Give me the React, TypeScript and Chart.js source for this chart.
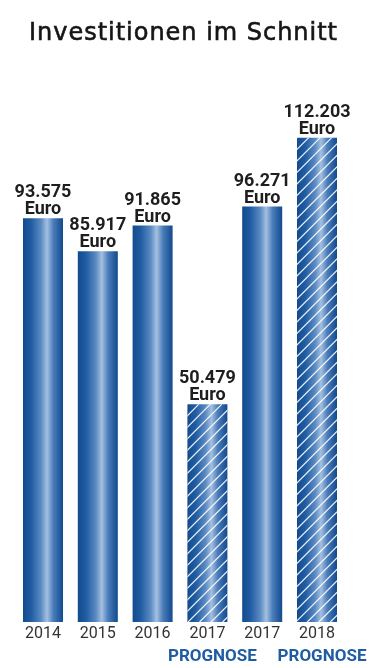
import { useEffect, useRef } from "react";
import { Chart, registerables } from "chart.js";

Chart.register(...registerables);

const TITLE = "Investitionen im Schnitt";
const CATEGORIES = ["2014", "2015", "2016", "2017", "2017", "2018"];
const VALUES = [93575, 85917, 91865, 50479, 96271, 112203];
const IS_FORECAST = [false, false, false, true, false, true];
const UNIT = "Euro";
const FORECAST_LABEL = "PROGNOSE";
const Y_MAX = 130000;

const BAR_PCT = 0.73;
const BLUE = "#1f5ca3";

function formatDE(v: number): string {
  return Math.round(v)
    .toString()
    .replace(/\B(?=(\d{3})+(?!\d))/g, ".");
}

function barFill(ctx: any) {
  const chart = ctx.chart;
  const area = chart.chartArea;
  if (!area || ctx.type !== "data" || !chart.scales.x) return "#2a62a6";
  const cx = chart.scales.x.getPixelForValue(ctx.dataIndex);
  const w = ((area.right - area.left) / CATEGORIES.length) * BAR_PCT;
  const g = chart.ctx.createLinearGradient(cx - w / 2, 0, cx + w / 2, 0);
  g.addColorStop(0, "#124a8e");
  g.addColorStop(0.2, "#205ca2");
  g.addColorStop(0.45, "#5a8ac2");
  g.addColorStop(0.6, "#a4c0e0");
  g.addColorStop(0.76, "#4a7cba");
  g.addColorStop(1, "#114a8e");
  return g;
}

const hatchPlugin = {
  id: "hatch",
  afterDatasetsDraw(chart: any) {
    const meta = chart.getDatasetMeta(0);
    const c = chart.ctx;
    meta.data.forEach((bar: any, i: number) => {
      if (!IS_FORECAST[i]) return;
      const { x, y, base, width } = bar.getProps(["x", "y", "base", "width"], true);
      const l = x - width / 2;
      const r = x + width / 2;
      const h = base - y;
      c.save();
      c.beginPath();
      c.rect(l, y, width, h);
      c.clip();
      c.beginPath();
      c.strokeStyle = "rgba(255,255,255,0.9)";
      c.lineWidth = 1.2;
      const step = 11.5;
      for (let s = l - h; s < r + step; s += step) {
        c.moveTo(s, base);
        c.lineTo(s + h, y);
      }
      c.stroke();
      c.restore();
    });
  },
};

const labelPlugin = {
  id: "valueLabels",
  afterDatasetsDraw(chart: any) {
    const meta = chart.getDatasetMeta(0);
    const c = chart.ctx;
    c.save();
    c.fillStyle = "#1e1e1e";
    c.textAlign = "center";
    c.textBaseline = "alphabetic";
    c.font = "bold 18px Roboto";
    meta.data.forEach((bar: any, i: number) => {
      const { x, y } = bar.getProps(["x", "y"], true);
      c.fillText(UNIT, x, y - 4);
      c.fillText(formatDE(VALUES[i]), x, y - 21);
    });
    c.restore();
  },
  afterDraw(chart: any) {
    const c = chart.ctx;
    const xs = chart.scales.x;
    c.save();
    c.fillStyle = BLUE;
    c.textAlign = "center";
    c.textBaseline = "alphabetic";
    c.font = "bold 17px Roboto";
    CATEGORIES.forEach((_, i) => {
      if (!IS_FORECAST[i]) return;
      c.fillText(FORECAST_LABEL, xs.getPixelForValue(i) + 5, 661);
    });
    // title
    c.fillStyle = "#161616";
    c.strokeStyle = "#161616";
    c.lineWidth = 0.6;
    c.textAlign = "left";
    c.font = "24px 'DejaVu Sans'";
    const target = 308;
    (c as any).letterSpacing = "0px";
    const m = c.measureText(TITLE).width;
    const ls = (target - m) / (TITLE.length - 1);
    (c as any).letterSpacing = ls + "px";
    c.fillText(TITLE, 29, 39.5);
    c.strokeText(TITLE, 29, 39.5);
    (c as any).letterSpacing = "0px";
    c.restore();
  },
};

export default function App() {
  const ref = useRef<HTMLCanvasElement | null>(null);
  useEffect(() => {
    if (!ref.current) return;
    const chart = new Chart(ref.current, {
      type: "bar",
      data: {
        labels: CATEGORIES,
        datasets: [
          {
            data: VALUES,
            backgroundColor: barFill,
            borderWidth: 0,
            barPercentage: BAR_PCT,
            categoryPercentage: 1,
          },
        ],
      },
      options: {
        animation: false,
        responsive: false,
        devicePixelRatio: 1,
        layout: { padding: { top: 61, left: 15.6, right: 35.6, bottom: 22.8 } },
        plugins: {
          legend: { display: false },
          tooltip: { enabled: false },
          title: { display: false },
        },
        scales: {
          x: {
            grid: { display: false, drawTicks: false },
            border: { display: false },
            ticks: {
              color: "#333333",
              padding: 2,
              font: { family: "Roboto", size: 16 },
            },
          },
          y: {
            display: false,
            min: 0,
            max: Y_MAX,
          },
        },
      },
      plugins: [hatchPlugin, labelPlugin],
    });
    return () => chart.destroy();
  }, []);
  return (
    <div style={{ position: "fixed", left: 0, top: 0, width: 380, height: 668, background: "#fff" }}>
      <canvas ref={ref} width={380} height={668} style={{ display: "block" }} />
    </div>
  );
}
